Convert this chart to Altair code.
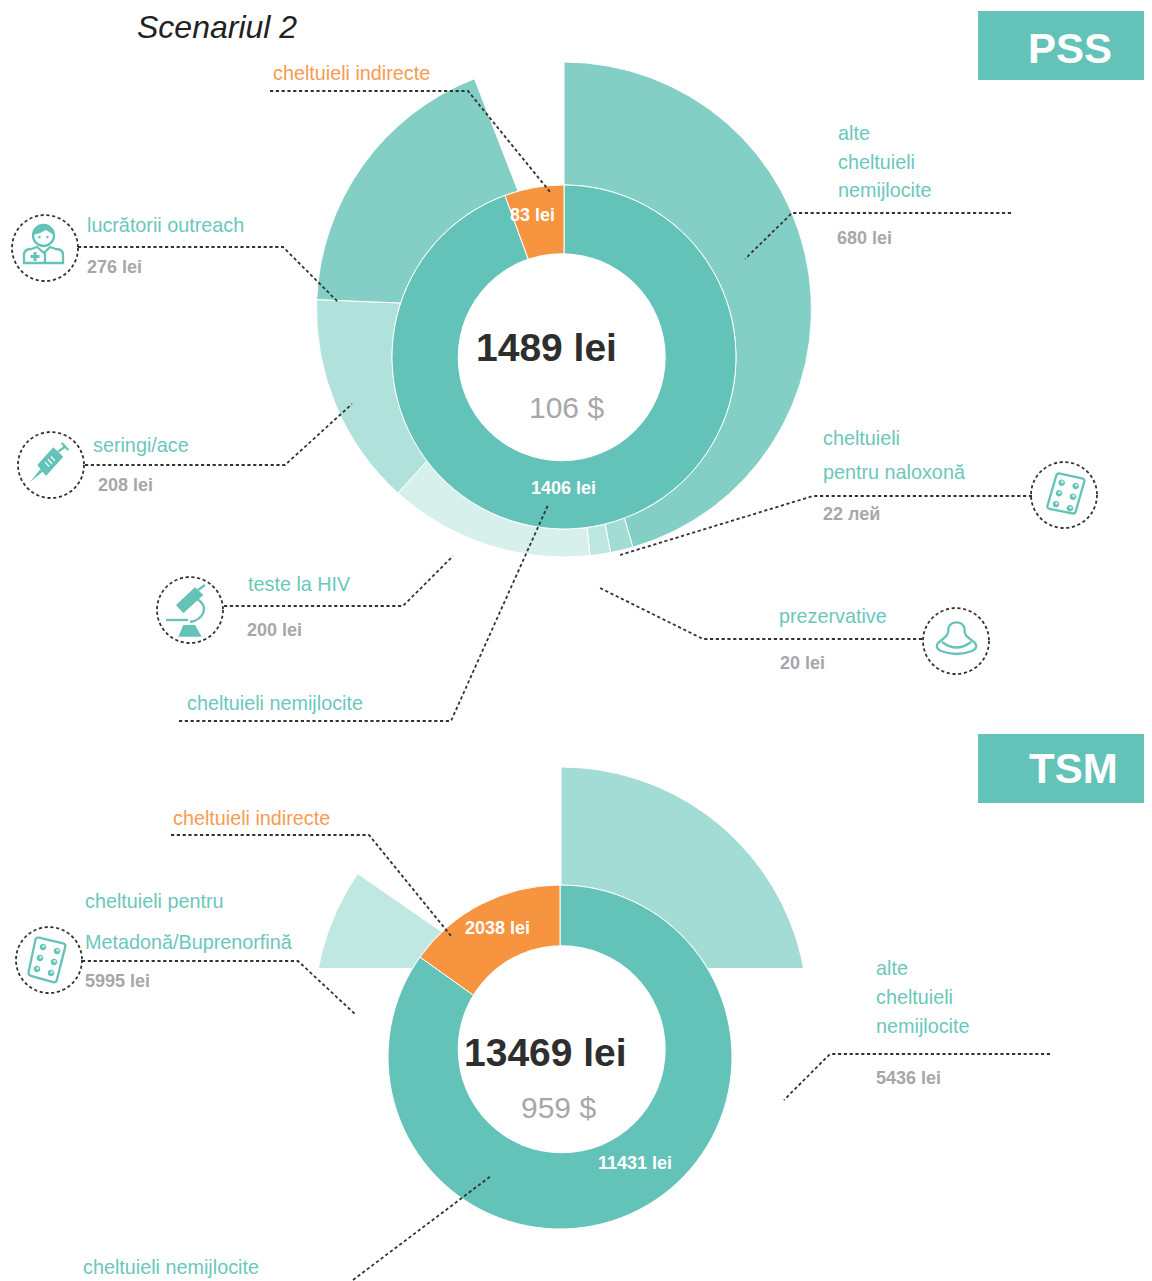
import altair as alt
import pandas as pd

# ---------- values ----------
PSS_TOTAL = 1489
PSS_OUTER_SWEEP_TOTAL = 1494
PSS_RING_LABELS = ["cheltuieli nemijlocite", "cheltuieli indirecte"]
PSS_RING_VALUES = [1406, 83]
PSS_RING_COLORS = ["#63C3B8", "#F79440"]
PSS_OUTER_LABELS = ["alte", "naloxona", "prezervative", "teste HIV", "seringi", "outreach"]
PSS_OUTER_VALUES = [680, 22, 20, 200, 208, 276]
PSS_OUTER_COLORS = ["#84CFC5", "#A3DCD5", "#BDE7E1", "#D7F0EC", "#B0E1DB", "#84CFC5"]

TSM_TOTAL = 13469
TSM_OUTER_SWEEP_TOTAL = 13510
TSM_RING_VALUES = [11431, 2038]
TSM_RING_COLORS = ["#63C3B8", "#F79440"]
TSM_OUTER_VALUES = [5436, 5995]
TSM_OUTER_COLORS = ["#A3DCD5", "#BFE8E2"]

TEAL, ORANGE, GREY, DARK, DASH = "#6BC7BC", "#F79B4F", "#A7A7AB", "#2E2E2E", "#333333"
FONT = "Liberation Sans"
T, V = 19.8, 18  # label and amount sizes

# text, x, y(baseline), colour, size, weight
LABELS = [
    ("cheltuieli indirecte", 273, 80, ORANGE, T, "normal"),
    ("alte", 838, 140, TEAL, T, "normal"),
    ("cheltuieli", 838, 169, TEAL, T, "normal"),
    ("nemijlocite", 838, 197, TEAL, T, "normal"),
    ("680 lei", 837, 244, GREY, V, "bold"),
    ("lucrătorii outreach", 87, 232, TEAL, T, "normal"),
    ("276 lei", 87, 273, GREY, V, "bold"),
    ("seringi/ace", 93, 452, TEAL, T, "normal"),
    ("208 lei", 98, 491, GREY, V, "bold"),
    ("teste la HIV", 248, 591, TEAL, T, "normal"),
    ("200 lei", 247, 636, GREY, V, "bold"),
    ("cheltuieli nemijlocite", 187, 710, TEAL, T, "normal"),
    ("cheltuieli", 823, 445, TEAL, T, "normal"),
    ("pentru naloxonă", 823, 479, TEAL, T, "normal"),
    ("22 лей", 823, 520, GREY, V, "bold"),
    ("prezervative", 779, 623, TEAL, T, "normal"),
    ("20 lei", 780, 669, GREY, V, "bold"),
    ("1489 lei", 476, 361, DARK, 39, "bold"),
    ("106 $", 529, 418, GREY, 30, "normal"),
    ("83 lei", 510, 221, "#FFFFFF", V, "bold"),
    ("1406 lei", 531, 494, "#FFFFFF", V, "bold"),
    ("PSS", 1028, 63, "#FFFFFF", 42, "bold"),
    ("TSM", 1029, 783, "#FFFFFF", 42, "bold"),
    ("cheltuieli indirecte", 173, 825, ORANGE, T, "normal"),
    ("cheltuieli pentru", 85, 908, TEAL, T, "normal"),
    ("Metadonă/Buprenorfină", 85, 949, TEAL, T, "normal"),
    ("5995 lei", 85, 987, GREY, V, "bold"),
    ("alte", 876, 975, TEAL, T, "normal"),
    ("cheltuieli", 876, 1004, TEAL, T, "normal"),
    ("nemijlocite", 876, 1033, TEAL, T, "normal"),
    ("5436 lei", 876, 1084, GREY, V, "bold"),
    ("cheltuieli nemijlocite", 83, 1274, TEAL, T, "normal"),
    ("13469 lei", 464, 1066, DARK, 39, "bold"),
    ("959 $", 521, 1118, GREY, 30, "normal"),
    ("2038 lei", 465, 934, "#FFFFFF", V, "bold"),
    ("11431 lei", 598, 1169, "#FFFFFF", V, "bold"),
]

LEADERS = [
    [(270, 91), (468, 91), (550, 192)],
    [(78, 247), (283, 247), (338, 302)],
    [(85, 465), (285, 465), (352, 404)],
    [(224, 606), (403, 606), (453, 556)],
    [(179, 721), (451, 721), (548, 505)],
    [(922, 639), (703, 639), (598, 587)],
    [(1032, 496), (813, 496), (620, 555)],
    [(1011, 213), (792, 213), (745, 259)],
    [(171, 835), (369, 835), (451, 936)],
    [(82, 961), (298, 961), (356, 1015)],
    [(1050, 1054), (830, 1054), (784, 1100)],
    [(353, 1280), (491, 1176)],
]

ICON_CENTERS = {
    "doctor": (45, 248), "syringe": (51, 465), "scope": (190, 610),
    "blister": (1064, 495), "condom": (956, 641), "blister2": (49, 960),
}

# ---------- helpers ----------
H = 33


def norm(name, s):
    cx, cy = ICON_CENTERS[name]
    out, is_x = [], True
    for tok in s.split():
        if tok.isalpha():
            out.append(tok)
            is_x = True
        else:
            v = float(tok)
            out.append(f"{(v - cx) / H:.4f}" if is_x else f"{(v - cy) / H:.4f}")
            is_x = not is_x
    return " ".join(out)


def ell(cx, cy, rx, ry=None):
    ry = rx if ry is None else ry
    k = 0.5523
    return (f"M {cx-rx} {cy} C {cx-rx} {cy-k*ry} {cx-k*rx} {cy-ry} {cx} {cy-ry} "
            f"C {cx+k*rx} {cy-ry} {cx+rx} {cy-k*ry} {cx+rx} {cy} "
            f"C {cx+rx} {cy+k*ry} {cx+k*rx} {cy+ry} {cx} {cy+ry} "
            f"C {cx-k*rx} {cy+ry} {cx-rx} {cy+k*ry} {cx-rx} {cy} Z")


def rounded(corners, r=3.0):
    n = len(corners)
    parts = []
    for i, (x, y) in enumerate(corners):
        px, py = corners[i - 1]
        nx, ny = corners[(i + 1) % n]
        d1 = ((px - x) ** 2 + (py - y) ** 2) ** 0.5
        d2 = ((nx - x) ** 2 + (ny - y) ** 2) ** 0.5
        a = (x + (px - x) * r / d1, y + (py - y) * r / d1)
        b = (x + (nx - x) * r / d2, y + (ny - y) * r / d2)
        parts.append(f"{'M' if i == 0 else 'L'} {a[0]:.2f} {a[1]:.2f} Q {x} {y} {b[0]:.2f} {b[1]:.2f}")
    return " ".join(parts) + " Z"


BLISTER_DOTS = [(1061.7, 482.7), (1075.7, 486), (1059, 493.3), (1073, 496.7), (1056, 504.3), (1070, 508.3)]
BLISTER2_DOTS = [(43, 947), (57, 951), (40, 958), (54, 962), (37, 969), (51, 973)]

ICON_PARTS = [
    ("doctor", "stroke", ell(43.5, 235.5, 10.5)),
    ("doctor", "fill", "M 33 235 Q 33 225 43.5 224.5 Q 54 225 54 235 Q 49 232 46 230 Q 40 234 33 235 Z"),
    ("doctor", "fill", ell(39.5, 237, 1.3) + " " + ell(47.5, 237, 1.3)),
    ("doctor", "stroke", "M 24 263 L 24 255 Q 24 249 31 249 L 37 247 L 44 253 L 50 247 L 56 249 Q 63 249 63 255 L 63 263 Z M 45 253 L 45 263"),
    ("doctor", "fill", "M 33.5 252 L 36.5 252 L 36.5 255 L 39.5 255 L 39.5 258 L 36.5 258 L 36.5 261 L 33.5 261 L 33.5 258 L 30.5 258 L 30.5 255 L 33.5 255 Z"),
    ("syringe", "fill", "M 37.3 465 L 53.3 447.3 L 63.3 456.7 L 46 476 Z"),
    ("syringe", "fill", "M 30 482 L 40.5 469 L 43 471.5 Z"),
    ("syringe", "stroke", "M 58.3 451.7 L 65 446.7 M 61.7 443 L 68.3 450"),
    ("syringe", "wstroke", "M 48 459.3 L 52 463.7 M 50.9 456.5 L 54.9 460.9 M 45.1 462.1 L 49.1 466.5"),
    ("scope", "fill", "M 176 605 L 195 587.3 L 203.3 595 L 183.3 613.3 Z"),
    ("scope", "stroke", "M 198 590 L 205 585"),
    ("scope", "stroke", "M 197 599 Q 206 604 203.5 612 Q 201 620 190 622"),
    ("scope", "stroke", "M 166 620 L 188 620"),
    ("scope", "fill", "M 183.3 625 L 195 625 L 201.7 636.7 L 178.3 636.7 Z"),
    ("blister", "stroke", rounded([(1057, 473), (1085, 479), (1075, 514), (1046.7, 508.3)])),
    ("blister", "fill", " ".join(ell(a, b, 3.3) for a, b in BLISTER_DOTS)),
    ("blister", "wfill", " ".join(ell(a + 0.6, b - 0.8, 1.3) for a, b in BLISTER_DOTS)),
    ("blister2", "stroke", rounded([(36, 937), (66, 944), (56, 983), (28, 975)])),
    ("blister2", "fill", " ".join(ell(a, b, 3.3) for a, b in BLISTER2_DOTS)),
    ("blister2", "wfill", " ".join(ell(a + 0.6, b - 0.8, 1.3) for a, b in BLISTER2_DOTS)),
    ("condom", "stroke", "M 946.7 635.7 Q 949 632 948.3 628.3 Q 950 622.3 956.5 622.3 Q 963 622.3 964.5 628.3 Q 964 632 966 635.7 Q 971 640 975 643 Q 978.5 648 972 651 Q 957 657 941 651 Q 934.5 648 938 643 Q 942 640 946.7 635.7 Z"),
    ("condom", "stroke", "M 942 642 Q 956.5 653 971 642"),
]

# ---------- scales ----------
W, HT = 1136, 1273
X = alt.Scale(domain=[8, 1144], range=[0, W])
Y = alt.Scale(domain=[8, 1281], range=[0, HT])
TH = alt.Scale(domain=[0, 1], range=[0, 6.283185307])


def xq(f="x"):
    return alt.X(f"{f}:Q", scale=X, axis=None)


def yq(f="y"):
    return alt.Y(f"{f}:Q", scale=Y, axis=None)


def sectors(values, colors, total, cx, cy):
    rows, run = [], 0
    for v, c in zip(values, colors):
        rows.append(dict(x=cx, y=cy, a=run / total, b=(run + v) / total, color=c))
        run += v
    return pd.DataFrame(rows)


def arcs(df, r, r2=0):
    return alt.Chart(df).mark_arc(radius=r, radius2=r2, stroke="white", strokeWidth=1).encode(
        x=xq(), y=yq(),
        theta=alt.Theta("a:Q", scale=TH),
        theta2=alt.Theta2("b:Q"),
        color=alt.Color("color:N", scale=None, legend=None),
    )


def disc(cx, cy, r):
    return alt.Chart(pd.DataFrame([dict(x=cx, y=cy)])).mark_point(
        shape="circle", filled=True, color="white", opacity=1, size=(2 * r) ** 2, strokeWidth=0
    ).encode(x=xq(), y=yq())


def box(x0, y0, x1, y1, color):
    return alt.Chart(pd.DataFrame([dict(x=x0, x2=x1, y=y0, y2=y1)])).mark_rect(color=color).encode(
        x=xq(), x2="x2:Q", y=yq(), y2="y2:Q"
    )


layers = [
    box(978, 11, 1144, 80, "#63C3B8"),
    box(978, 734, 1144, 803, "#63C3B8"),
    # PSS
    arcs(sectors(PSS_OUTER_VALUES, PSS_OUTER_COLORS, PSS_OUTER_SWEEP_TOTAL, 564, 309.5), 247.5),
    disc(564, 357, 172.5),
    arcs(sectors(PSS_RING_VALUES, PSS_RING_COLORS, PSS_TOTAL, 564, 357), 172),
    disc(561.7, 357.2, 104),
    # TSM
    arcs(sectors(TSM_OUTER_VALUES, TSM_OUTER_COLORS, TSM_OUTER_SWEEP_TOTAL, 561, 1014), 247),
    box(300, 968, 830, 1270, "white"),
    disc(560, 1057, 172.5),
    arcs(sectors(TSM_RING_VALUES, TSM_RING_COLORS, TSM_TOTAL, 560, 1057), 172),
    disc(561.7, 1049.3, 104),
]

# leaders
rows = []
for i, line in enumerate(LEADERS):
    for j, (a, b) in enumerate(line):
        rows.append(dict(id=i, k=j, x=a, y=b))
layers.append(
    alt.Chart(pd.DataFrame(rows)).mark_line(color=DASH, strokeWidth=1.8, strokeDash=[3.2, 2.6]).encode(
        x=xq(), y=yq(), detail="id:N", order="k:Q"
    )
)

# icon rings
layers.append(
    alt.Chart(pd.DataFrame([dict(x=a, y=b) for a, b in ICON_CENTERS.values()])).mark_point(
        shape="circle", filled=False, color=DASH, opacity=1, size=(2 * H) ** 2, strokeWidth=1.8, strokeDash=[3.2, 2.6]
    ).encode(x=xq(), y=yq())
)

# icon glyphs
icon_df = pd.DataFrame([
    dict(x=ICON_CENTERS[n][0], y=ICON_CENTERS[n][1], kind=k, path=norm(n, p)) for n, k, p in ICON_PARTS
])
STYLES = {
    "stroke": dict(filled=False, color="#63C3B8", strokeWidth=2.3),
    "fill": dict(filled=True, color="#63C3B8", strokeWidth=0),
    "wstroke": dict(filled=False, color="white", strokeWidth=1.3),
    "wfill": dict(filled=True, color="#D7F0EC", strokeWidth=0),
}
for kind, st in STYLES.items():
    layers.append(
        alt.Chart(icon_df[icon_df.kind == kind]).mark_point(opacity=1, size=(2 * H) ** 2, **st).encode(
            x=xq(), y=yq(), shape=alt.Shape("path:N", scale=None, legend=None)
        )
    )

# text
lab_df = pd.DataFrame(LABELS, columns=["t", "x", "y", "c", "s", "w"])
for w in ["normal", "bold"]:
    sub = lab_df[lab_df.w == w]
    layers.append(
        alt.Chart(sub).mark_text(align="left", baseline="alphabetic", font=FONT, fontWeight=w).encode(
            x=xq(), y=yq(), text="t:N",
            color=alt.Color("c:N", scale=None, legend=None),
            size=alt.Size("s:Q", scale=None, legend=None),
        )
    )
layers.append(
    alt.Chart(pd.DataFrame([dict(t="Scenariul 2", x=137, y=38)])).mark_text(
        align="left", baseline="alphabetic", font=FONT, fontStyle="italic", fontSize=32, color="#222222"
    ).encode(x=xq(), y=yq(), text="t:N")
)

chart = alt.layer(*layers).properties(
    width=W, height=HT, padding=0, autosize=alt.AutoSizeParams(type="none"), background="white"
).configure_view(stroke=None)

chart.save("out.html", embed_options={"renderer": "svg", "actions": False})
